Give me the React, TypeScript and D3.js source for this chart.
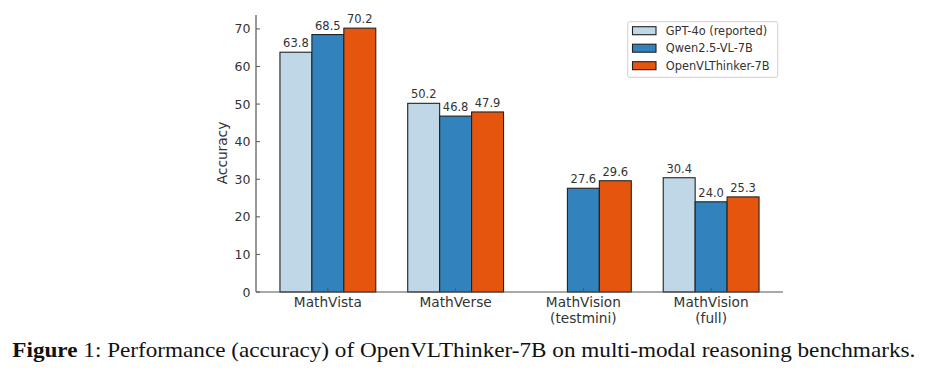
import React from "react";
import * as d3 from "d3";

const categories: string[][] = [["MathVista"], ["MathVerse"], ["MathVision", "(testmini)"], ["MathVision", "(full)"]];
const seriesNames = ["GPT-4o (reported)", "Qwen2.5-VL-7B", "OpenVLThinker-7B"];
const gpt4o: (number | null)[] = [63.8, 50.2, null, 30.4];
const qwen: (number | null)[] = [68.5, 46.8, 27.6, 24.0];
const openvl: (number | null)[] = [70.2, 47.9, 29.6, 25.3];
const yTicks = [0, 10, 20, 30, 40, 50, 60, 70];
const colors = ["#bfd7e6", "#3182bd", "#e6550d"];

const W = 926, H = 377;

export default function App() {
  const series = [gpt4o, qwen, openvl];
  const x = d3.scaleLinear().domain([-0.5625, 3.5625]).range([256, 783]);
  const y = d3.scaleLinear().domain([0, 73.7]).range([292, 15]);
  const bw = 0.25;
  const axisColor = "#555";
  const textColor = "#333";
  const font = "DejaVu Sans";

  return (
    <svg width={W} height={H} style={{ position: "absolute", left: 0, top: 0, background: "#fff" }}>
      {/* bars */}
      {series.map((vals, si) =>
        vals.map((v, ci) => {
          if (v == null) return null;
          const cx = ci + (si - 1) * bw;
          const x0 = x(cx - bw / 2);
          const x1 = x(cx + bw / 2);
          return (
            <g key={`${si}-${ci}`}>
              <rect x={x0} y={y(v)} width={x1 - x0} height={y(0) - y(v)} fill={colors[si]} stroke="#222" strokeWidth={1.1} />
              <text x={(x0 + x1) / 2} y={y(v) - 5} textAnchor="middle" fontFamily={font} fontSize={11.5} fill={textColor}>
                {v.toFixed(1)}
              </text>
            </g>
          );
        })
      )}
      {/* axes */}
      <line x1={256} x2={256} y1={15} y2={292} stroke={axisColor} strokeWidth={1.2} />
      <line x1={256} x2={783} y1={292} y2={292} stroke={axisColor} strokeWidth={1.2} />
      {yTicks.map((t) => (
        <g key={t}>
          <line x1={256} x2={260} y1={y(t)} y2={y(t)} stroke={axisColor} strokeWidth={1} />
          <text x={250.5} y={y(t)} dy="0.36em" textAnchor="end" fontFamily={font} fontSize={12.5} fill={textColor}>
            {t}
          </text>
        </g>
      ))}
      {categories.map((lines, ci) => (
        <g key={ci}>
          <line x1={x(ci)} x2={x(ci)} y1={292} y2={288} stroke={axisColor} strokeWidth={1} />
          {lines.map((l, li) => (
            <text key={li} x={x(ci)} y={307 + li * 16} textAnchor="middle" fontFamily={font} fontSize={13.7} fill={textColor}>
              {l}
            </text>
          ))}
        </g>
      ))}
      <text transform={`translate(227,153) rotate(-90)`} textAnchor="middle" fontFamily={font} fontSize={13.7} fill={textColor}>
        Accuracy
      </text>
      {/* legend */}
      <rect x={627.7} y={21.7} width={150} height={55.6} rx={2} fill="#fff" stroke="#d0d0d0" strokeWidth={1} />
      {seriesNames.map((n, i) => {
        const cy = 30.7 + i * 17.5;
        return (
          <g key={n}>
            <rect x={632.5} y={cy - 4} width={23.5} height={8} fill={colors[i]} stroke="#222" strokeWidth={1.1} />
            <text x={665.7} y={cy} dy="0.36em" fontFamily={font} fontSize={11.4} fill={textColor}>
              {n}
            </text>
          </g>
        );
      })}
      {/* caption */}
      <text x={12.3} y={356.7} fontFamily="Liberation Serif" fontSize={21.5} fill="#111" textLength={903} lengthAdjust="spacingAndGlyphs">
        <tspan fontWeight="bold">Figure</tspan> 1: Performance (accuracy) of OpenVLThinker-7B on multi-modal reasoning benchmarks.
      </text>
    </svg>
  );
}
